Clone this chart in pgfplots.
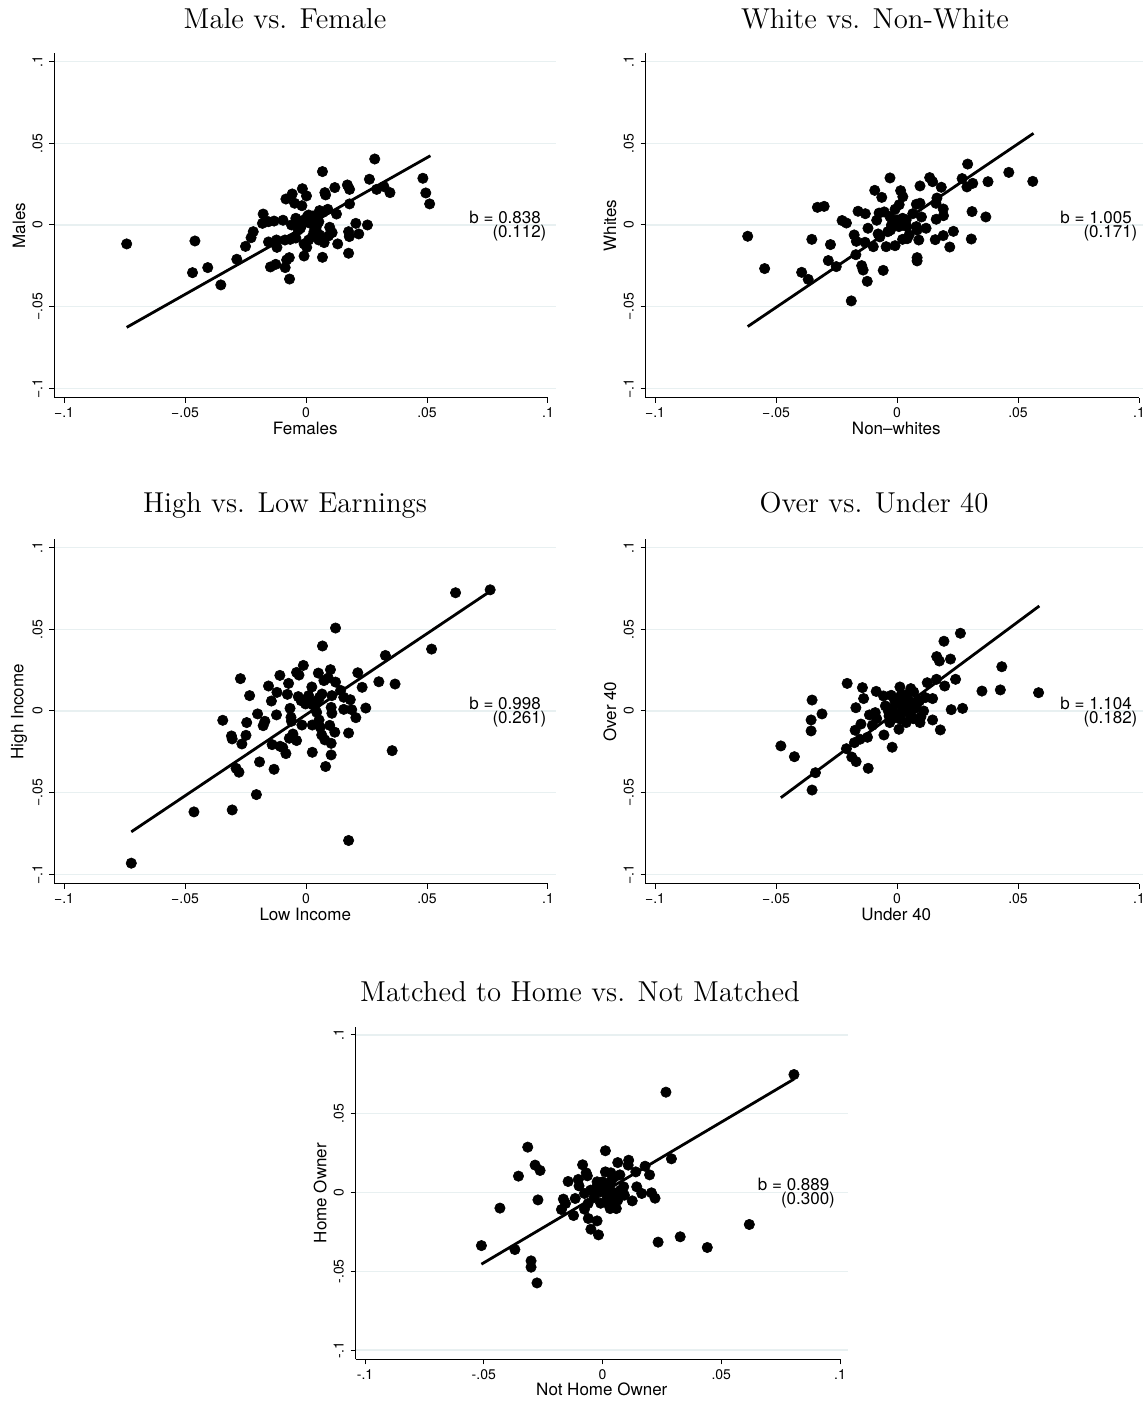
\documentclass[border=0pt]{standalone}
\usepackage{fontspec}
\usepackage{pgfplots}
\pgfplotsset{compat=1.18}
\newfontfamily\hv{TeX Gyre Heros}
\definecolor{gridc}{RGB}{232,240,241}
\newcommand\labfont{\hv\fontsize{8.5}{7}\selectfont}
\newcommand\tickfont{\hv\fontsize{7}{8}\selectfont}
\newcommand\titfont{\fontsize{14.4}{16}\selectfont}
\pgfplotsset{
 panel/.style={
  scale only axis, width=250.75pt, height=172.35pt,
  anchor=south west,
  xmin=-0.10393, xmax=0.10331, ymin=-0.10594, ymax=0.10514,
  axis lines*=left,
  axis line style={line width=0.5pt, black},
  x axis line style={shorten >=4pt},
  xtick={-0.1,-0.05,0,0.05,0.1},
  ytick={-0.1,-0.05,0,0.05,0.1},
  xticklabels={−.1,−.05,0,.05,.1},
  yticklabels={−.1,−.05,0,.05,.1},
  tick align=outside, major tick length=2.5pt,
  tick style={black, line width=0.5pt},
  ymajorgrids, grid style={gridc, line width=0.6pt},
  ticklabel style={font=\tickfont},
  xticklabel style={anchor=base, yshift=-7.5pt},
  yticklabel style={rotate=90, anchor=base, yshift=3.5pt},
  label style={font=\labfont},
  xlabel style={at={(axis description cs:0.5,0)}, anchor=center, yshift=-15pt},
  ylabel style={at={(axis description cs:0,0.5)}, anchor=center, yshift=17.75pt},
  clip=false,
  scatter/.style={only marks, mark=*, mark size=2.6pt, mark options={fill=black, draw=black, line width=0.3pt}},
  fit/.style={no marks, black, line width=1.4pt},
 }
}
\newcommand\bnote[3][0.0995]{%
 \node[anchor=base east, font=\labfont, inner sep=0pt, align=right] at (axis cs:#1,-0.0078) {#2\kern2.8pt\\#3};}
\begin{document}
\begin{tikzpicture}
\path[use as bounding box] (0,0) rectangle (571.5pt,700.5pt);
% titles
\node[anchor=base, font=\titfont] at (142.5pt,686pt) {Male vs. Female};
\node[anchor=base, font=\titfont] at (437.5pt,686pt) {White vs. Non-White};
\node[anchor=base, font=\titfont] at (142.5pt,444pt) {High vs. Low Earnings};
\node[anchor=base, font=\titfont] at (437pt,444pt) {Over vs. Under 40};
\node[anchor=base, font=\titfont] at (290pt,199.5pt) {Matched to Home vs. Not Matched};

% Panel 1
\begin{axis}[panel, at={(27.25pt,501.5pt)}, xlabel={Females}, ylabel={Males}]
\addplot[scatter] table {
-0.0741 -0.0116
-0.0459 -0.0098
-0.0469 -0.0292
-0.0406 -0.0261
-0.0352 -0.0367
-0.0286 -0.0210
-0.0250 -0.0131
-0.0227 -0.0078
-0.0218 -0.0041
-0.0177 0.0067
-0.0180 0.0010
-0.0155 0.0020
-0.0132 0.0024
-0.0155 -0.0104
-0.0122 -0.0092
-0.0120 -0.0137
-0.0147 -0.0257
-0.0125 -0.0241
-0.0095 0.0029
-0.0083 0.0159
-0.0057 0.0190
-0.0047 0.0133
-0.0087 -0.0092
-0.0080 -0.0214
-0.0069 -0.0200
-0.0086 -0.0261
-0.0068 -0.0331
-0.0065 -0.0088
-0.0042 -0.0080
-0.0060 0.0000
-0.0042 0.0041
-0.0015 0.0222
0.0002 0.0178
-0.0017 0.0118
-0.0027 -0.0010
-0.0008 0.0031
0.0011 0.0061
-0.0008 -0.0116
0.0003 -0.0137
-0.0008 -0.0190
0.0018 0.0010
0.0029 0.0055
0.0041 0.0051
0.0056 0.0088
0.0071 0.0078
0.0090 0.0096
0.0068 0.0327
0.0078 0.0198
0.0081 0.0184
0.0119 0.0229
0.0126 0.0067
0.0041 -0.0027
0.0056 -0.0061
0.0033 -0.0041
0.0053 -0.0092
0.0068 -0.0198
0.0075 -0.0108
0.0098 -0.0014
0.0108 -0.0047
0.0093 -0.0067
0.0131 -0.0116
0.0171 0.0245
0.0180 0.0218
0.0180 0.0129
0.0176 -0.0041
0.0179 -0.0071
0.0176 -0.0173
0.0206 0.0010
0.0218 -0.0055
0.0254 0.0000
0.0262 0.0280
0.0284 0.0404
0.0292 0.0218
0.0322 0.0235
0.0347 0.0198
0.0483 0.0286
0.0495 0.0196
0.0511 0.0129
-0.0035 0.0020
-0.0023 -0.0020
0.0005 0.0051
0.0023 0.0020
0.0044 -0.0006
0.0026 -0.0071
0.0011 -0.0092
0.0053 0.0020
-0.0032 -0.0031
};
\addplot[fit] coordinates {(-0.0741,-0.0627) (0.0514,0.0424)};
\bnote{b = 0.838}{(0.112)}
\end{axis}

% Panel 2
\begin{axis}[panel, at={(322.75pt,501.5pt)}, xlabel={Non–whites}, ylabel={Whites}]
\addplot[scatter] table {
-0.0617 -0.0069
-0.0547 -0.0267
-0.0394 -0.0290
-0.0367 -0.0333
-0.0352 -0.0088
-0.0329 0.0108
-0.0301 0.0114
-0.0275 -0.0120
-0.0284 -0.0218
-0.0251 -0.0255
-0.0227 0.0027
-0.0209 0.0012
-0.0161 0.0084
-0.0131 0.0069
-0.0177 -0.0061
-0.0168 -0.0100
-0.0170 -0.0182
-0.0120 -0.0020
-0.0132 -0.0106
-0.0146 -0.0249
-0.0140 -0.0276
-0.0123 -0.0345
-0.0189 -0.0465
-0.0092 0.0212
-0.0063 0.0169
-0.0084 0.0029
-0.0074 0.0073
-0.0053 0.0080
-0.0078 -0.0055
-0.0071 -0.0073
-0.0098 -0.0133
-0.0045 -0.0133
-0.0057 -0.0278
-0.0029 0.0288
-0.0029 0.0051
-0.0027 -0.0031
-0.0008 0.0096
-0.0008 -0.0127
0.0015 0.0210
0.0024 0.0173
0.0009 0.0124
0.0000 0.0031
0.0012 0.0004
0.0030 0.0014
0.0041 -0.0010
0.0023 -0.0088
0.0042 -0.0084
0.0050 -0.0061
0.0065 0.0069
0.0080 0.0127
0.0095 0.0133
0.0095 0.0239
0.0101 0.0049
0.0080 -0.0010
0.0083 -0.0031
0.0090 -0.0092
0.0083 -0.0200
0.0083 -0.0220
0.0120 -0.0020
0.0135 0.0290
0.0147 0.0265
0.0183 0.0231
0.0165 0.0165
0.0161 0.0133
0.0162 0.0035
0.0191 0.0098
0.0192 0.0057
0.0158 -0.0090
0.0191 -0.0065
0.0233 -0.0039
0.0218 -0.0135
0.0269 0.0284
0.0292 0.0373
0.0289 0.0233
0.0313 0.0255
0.0310 0.0082
0.0307 -0.0086
0.0376 0.0265
0.0367 0.0049
0.0462 0.0322
0.0561 0.0267
-0.0015 0.0020
0.0008 -0.0010
0.0023 0.0041
-0.0023 0.0000
0.0038 0.0031
-0.0038 -0.0041
};
\addplot[fit] coordinates {(-0.0617,-0.0622) (0.0564,0.0561)};
\bnote{b = 1.005}{(0.171)}
\end{axis}

% Panel 3
\begin{axis}[panel, at={(27.25pt,258.5pt)}, xlabel={Low Income}, ylabel={High Income}]
\addplot[scatter] table {
-0.0722 -0.0932
-0.0463 -0.0618
-0.0305 -0.0606
-0.0205 -0.0512
-0.0344 -0.0057
-0.0308 -0.0153
-0.0305 -0.0171
-0.0248 -0.0149
-0.0265 -0.0202
-0.0245 -0.0071
-0.0271 0.0198
-0.0233 0.0094
-0.0200 -0.0018
-0.0177 -0.0090
-0.0170 -0.0063
-0.0289 -0.0351
-0.0277 -0.0375
-0.0192 -0.0312
-0.0132 -0.0357
-0.0155 0.0153
-0.0143 0.0061
-0.0120 0.0114
-0.0108 0.0218
-0.0122 -0.0024
-0.0140 -0.0206
-0.0107 -0.0216
-0.0083 -0.0261
-0.0096 -0.0224
-0.0072 0.0169
-0.0077 0.0102
-0.0066 0.0016
-0.0062 -0.0039
-0.0060 -0.0063
-0.0039 0.0236
-0.0029 0.0220
-0.0032 0.0088
-0.0011 0.0279
-0.0009 0.0067
0.0011 0.0094
-0.0017 -0.0086
-0.0039 -0.0181
-0.0054 -0.0141
-0.0069 -0.0167
0.0024 0.0147
0.0029 0.0037
0.0047 0.0063
0.0051 0.0232
0.0068 0.0398
0.0074 0.0186
0.0066 0.0104
0.0101 0.0253
0.0092 0.0202
0.0122 0.0508
0.0122 0.0177
0.0107 0.0094
0.0104 0.0022
0.0107 -0.0014
0.0026 -0.0086
0.0054 -0.0055
0.0059 -0.0100
0.0065 -0.0147
0.0078 -0.0177
0.0098 -0.0088
0.0119 -0.0130
0.0104 -0.0198
0.0026 -0.0253
0.0104 -0.0269
0.0081 -0.0340
0.0143 0.0126
0.0156 0.0084
0.0183 0.0069
0.0156 0.0010
0.0189 0.0008
0.0176 -0.0135
0.0214 0.0234
0.0232 0.0145
0.0206 -0.0041
0.0247 0.0018
0.0301 0.0179
0.0328 0.0340
0.0368 0.0165
0.0356 -0.0243
0.0176 -0.0793
0.0519 0.0379
0.0618 0.0724
0.0761 0.0742
-0.0002 0.0043
0.0014 0.0063
0.0038 0.0033
0.0056 0.0084
-0.0020 0.0063
0.0044 -0.0008
};
\addplot[fit] coordinates {(-0.0722,-0.0740) (0.0758,0.0730)};
\bnote{b = 0.998}{(0.261)}
\end{axis}

% Panel 4
\begin{axis}[panel, at={(322.75pt,258.5pt)}, xlabel={Under 40}, ylabel={Over 40}]
\addplot[scatter] table {
-0.0480 -0.0214
-0.0424 -0.0280
-0.0355 -0.0055
-0.0355 -0.0122
-0.0351 0.0067
-0.0310 -0.0018
-0.0337 -0.0378
-0.0351 -0.0484
-0.0206 0.0169
-0.0209 -0.0231
-0.0187 -0.0282
-0.0169 -0.0310
-0.0170 0.0020
-0.0173 -0.0118
-0.0176 -0.0194
-0.0153 -0.0173
-0.0149 -0.0080
-0.0143 0.0143
-0.0138 0.0076
-0.0119 -0.0351
-0.0122 -0.0161
-0.0114 -0.0024
-0.0102 -0.0088
-0.0086 0.0120
-0.0090 -0.0010
-0.0084 -0.0047
-0.0054 -0.0147
-0.0048 0.0031
-0.0056 0.0092
-0.0024 0.0096
-0.0020 -0.0222
-0.0036 0.0000
-0.0030 -0.0071
-0.0008 -0.0041
0.0012 0.0147
0.0017 0.0098
-0.0003 0.0051
0.0020 0.0031
0.0008 -0.0112
0.0015 -0.0051
0.0038 -0.0071
0.0035 0.0000
0.0057 0.0137
0.0069 0.0116
0.0050 0.0061
0.0072 0.0014
0.0068 -0.0047
0.0095 -0.0071
0.0099 -0.0035
0.0110 0.0000
0.0092 0.0061
0.0117 0.0082
0.0125 0.0173
0.0147 0.0076
0.0147 -0.0055
0.0164 0.0333
0.0175 0.0306
0.0163 0.0194
0.0194 0.0427
0.0197 0.0153
0.0179 -0.0116
0.0221 0.0318
0.0224 0.0008
0.0242 0.0194
0.0262 0.0476
0.0271 0.0016
0.0351 0.0122
0.0427 0.0129
0.0433 0.0271
0.0585 0.0112
-0.0018 0.0020
0.0005 -0.0020
0.0027 0.0071
0.0045 0.0031
-0.0011 0.0071
0.0020 -0.0010
0.0080 0.0041
0.0057 -0.0031
-0.0033 -0.0031
0.0042 0.0102
};
\addplot[fit] coordinates {(-0.0480,-0.0531) (0.0588,0.0643)};
\bnote{b = 1.104}{(0.182)}
\end{axis}

% Panel 5
\begin{axis}[panel, at={(177.85pt,20.8pt)}, width=246.1pt, height=166.25pt,
  xticklabels={-.1,-.05,0,.05,.1}, yticklabels={-.1,-.05,0,.05,.1},
  xlabel={Not Home Owner}, ylabel={Home Owner}]
\addplot[scatter] table {
-0.0510 -0.0337
-0.0432 -0.0099
-0.0369 -0.0362
-0.0354 0.0104
-0.0315 0.0288
-0.0301 -0.0434
-0.0301 -0.0474
-0.0276 -0.0574
-0.0284 0.0174
-0.0263 0.0140
-0.0272 -0.0047
-0.0165 -0.0042
-0.0156 -0.0070
-0.0173 -0.0108
-0.0145 0.0070
-0.0122 -0.0146
-0.0115 -0.0038
-0.0102 0.0083
-0.0099 0.0042
-0.0084 0.0176
-0.0069 0.0125
-0.0064 0.0106
-0.0076 -0.0006
-0.0076 -0.0106
-0.0061 -0.0070
-0.0060 -0.0165
-0.0049 -0.0233
-0.0023 -0.0180
-0.0017 -0.0269
-0.0050 0.0015
-0.0035 -0.0032
-0.0023 0.0068
-0.0026 0.0032
-0.0008 -0.0068
0.0012 0.0265
0.0012 0.0131
0.0000 0.0068
0.0017 -0.0006
0.0023 -0.0070
0.0032 -0.0102
0.0035 0.0125
0.0050 0.0099
0.0064 0.0190
0.0073 0.0112
0.0058 -0.0102
0.0064 -0.0049
0.0089 0.0036
0.0092 -0.0017
0.0110 0.0205
0.0108 0.0174
0.0125 -0.0053
0.0144 0.0036
0.0140 0.0131
0.0165 -0.0006
0.0179 0.0167
0.0198 0.0112
0.0206 -0.0002
0.0221 -0.0036
0.0234 -0.0315
0.0267 0.0637
0.0290 0.0214
0.0327 -0.0281
0.0441 -0.0349
0.0618 -0.0203
0.0806 0.0749
0.0008 0.0015
0.0026 0.0047
0.0041 0.0004
0.0053 -0.0028
0.0076 0.0015
0.0038 0.0078
0.0020 -0.0034
-0.0008 0.0004
-0.0038 0.0004
0.0046 -0.0070
};
\addplot[fit] coordinates {(-0.0510,-0.0455) (0.0806,0.0720)};
\bnote[0.0980]{b = 0.889}{(0.300)}
\end{axis}
\end{tikzpicture}
\end{document}
